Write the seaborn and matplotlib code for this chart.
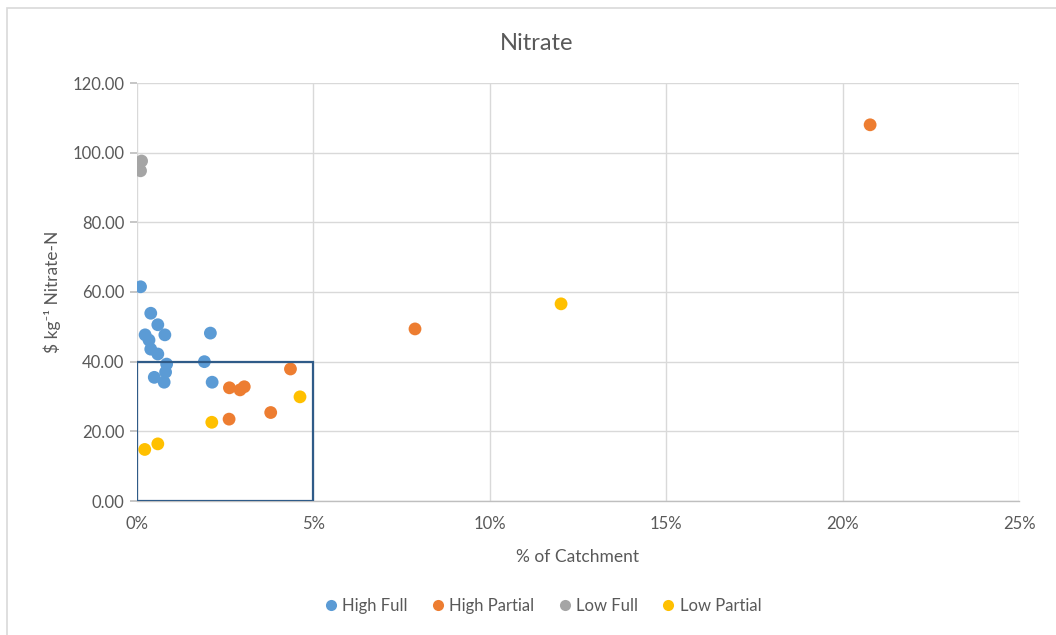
import matplotlib
matplotlib.use("Agg")
import matplotlib.pyplot as plt
from matplotlib.patches import Rectangle
from matplotlib.ticker import MultipleLocator, PercentFormatter, FormatStrFormatter
import seaborn as sns
import pandas as pd

# Share of catchment (fraction) and cost per kg nitrate-N for each scenario group
high_full_x = [0.0010, 0.0039, 0.0059, 0.0023, 0.0034, 0.0079, 0.0039, 0.0059,
               0.0084, 0.0081, 0.0049, 0.0077, 0.0191, 0.0208, 0.0213]
high_full_y = [61.5, 53.9, 50.6, 47.7, 46.2, 47.7, 43.6, 42.2,
               39.3, 37.0, 35.5, 34.1, 40.0, 48.2, 34.1]

high_partial_x = [0.0262, 0.0292, 0.0304, 0.0435, 0.0261, 0.0379, 0.0788, 0.2078]
high_partial_y = [32.5, 31.9, 32.8, 37.9, 23.5, 25.4, 49.4, 108.0]

low_full_x = [0.0013, 0.0010]
low_full_y = [97.6, 94.8]

low_partial_x = [0.0022, 0.0059, 0.0212, 0.0462, 0.1202]
low_partial_y = [14.8, 16.4, 22.6, 29.9, 56.6]

groups = ["High Full", "High Partial", "Low Full", "Low Partial"]
colors = ["#5B9BD5", "#ED7D31", "#A5A5A5", "#FFC000"]

frames = []
for name, xs, ys in zip(groups,
                        [high_full_x, high_partial_x, low_full_x, low_partial_x],
                        [high_full_y, high_partial_y, low_full_y, low_partial_y]):
    frames.append(pd.DataFrame({"catchment": xs, "cost": ys, "group": name}))
df = pd.concat(frames, ignore_index=True)

sns.set_theme(style="white")
plt.rcParams["font.family"] = ["Lato", "DejaVu Sans"]

text_grey = "#595959"
grid_grey = "#D9D9D9"

fig = plt.figure(figsize=(10.56, 6.35), dpi=100)
ax = fig.add_axes([137 / 1056, 1 - 501 / 635, (1019 - 137) / 1056, (501 - 83) / 635])

# Light outer chart border (top and left edges)
fig.patches.append(Rectangle((7 / 1056, -0.1), 1.2, 1 - 8 / 635 + 0.1,
                             transform=fig.transFigure, fill=False,
                             edgecolor="#D9D9D9", linewidth=1.2, zorder=0))

sns.scatterplot(data=df, x="catchment", y="cost", hue="group",
                hue_order=groups, palette=colors, s=85, edgecolor="none",
                ax=ax, zorder=3, legend=False)

# Highlight box around the low-cost, small-catchment region
ax.add_patch(Rectangle((0, 0), 0.05, 40, fill=False, edgecolor="#2F5B88",
                       linewidth=1.6, zorder=4))

ax.set_xlim(0, 0.25)
ax.set_ylim(0, 120)
ax.xaxis.set_major_locator(MultipleLocator(0.05))
ax.xaxis.set_minor_locator(MultipleLocator(0.01))
ax.xaxis.set_major_formatter(PercentFormatter(1.0, decimals=0))
ax.yaxis.set_major_locator(MultipleLocator(20))
ax.yaxis.set_major_formatter(FormatStrFormatter("%.2f"))

ax.grid(True, which="major", color=grid_grey, linewidth=1.0, zorder=0)
ax.set_axisbelow(True)
for side in ["top", "right", "left"]:
    ax.spines[side].set_visible(False)
ax.spines["bottom"].set_color("#BFBFBF")
ax.spines["bottom"].set_linewidth(1.0)

ax.tick_params(axis="x", which="both", direction="out", length=5,
               color="#BFBFBF", labelsize=12, labelcolor=text_grey, pad=6)
ax.tick_params(axis="y", which="major", direction="out", length=5,
               color="#BFBFBF", labelsize=12, labelcolor=text_grey, pad=4, left=True)

ax.set_xlabel("% of Catchment", fontsize=12.5, color=text_grey, labelpad=12)
ax.set_ylabel("$ kg⁻¹ Nitrate-N", fontsize=12.5, color=text_grey, labelpad=8)
fig.text(537 / 1056, 1 - 44 / 635, "Nitrate", fontsize=17, color=text_grey,
         ha="center", va="center")

handles = [plt.Line2D([], [], marker="o", linestyle="none", markersize=8,
                      markerfacecolor=c, markeredgecolor="none") for c in colors]
fig.legend(handles, groups, loc="center", bbox_to_anchor=(541 / 1056, 1 - 606 / 635),
           ncol=4, frameon=False, fontsize=12, labelcolor=text_grey,
           handletextpad=0.1, columnspacing=1.2, handlelength=1.2)

fig.savefig("out.png", dpi=100, facecolor="white")
